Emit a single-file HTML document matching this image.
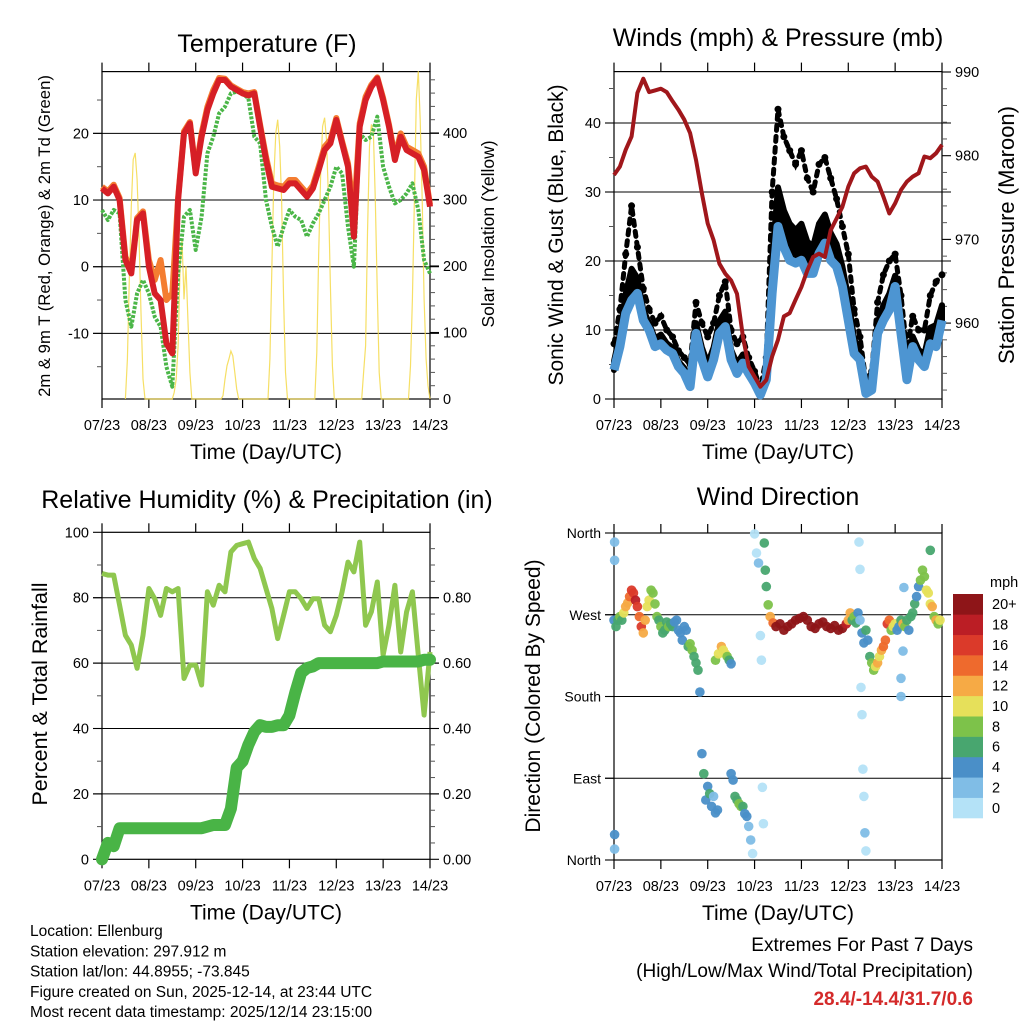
<!DOCTYPE html>
<html><head><meta charset="utf-8"><style>
html,body{margin:0;padding:0;background:#fff;}
svg{display:block;font-family:"Liberation Sans",Arial,sans-serif;}
</style></head><body>
<svg id="chart" width="1024" height="1024" viewBox="0 0 1024 1024" xmlns="http://www.w3.org/2000/svg">
<rect width="1024" height="1024" fill="#fff"/>
<g id="layer"></g>
</svg>
<script>
// ---------- data (3-hourly, hour = 3*k) ----------
const dayLabels = ["07/23","08/23","09/23","10/23","11/23","12/23","13/23","14/23"];
const temp2m = [11.75,11,12,10,1,-1,7,8,0,-4,-5,-11.5,-13,10,20,21.5,14,19.5,23.5,26,28,28,27,26.5,26,25.7,26,21,16,12,11.75,11.5,12.5,12.5,11.5,10.5,11.75,14.5,17.5,18.5,22,18.5,15,4.5,21,25,27,28.25,25,21,16,19.5,17.5,17,16.5,14.5,9];
const temp9m = [12,11.3,12.3,10.3,1.5,-0.5,7.3,8.3,1,-2,1,-5,-4,10.3,20.3,21.7,14.3,20,24,26.5,28.3,28.2,27.2,26.7,26.2,26,26.2,21.3,16.5,12.5,12.2,12,13,13,12,11,12.2,15,18,19,22.3,18.8,15.5,7.5,21.5,25.5,27.3,28.4,25.3,21.3,16.5,20,18,17.5,17,15,9.3];
const dewpt = [8.5,7,8.5,8,-5,-9,-4,-2,-4,-7.5,-9,-15,-18,-1,7.5,8.5,2.5,7.5,17,19.5,23,24,26,26.25,26,25.25,19.5,18.5,10,6,3,6,8.5,7.5,7,4.5,6.5,8,10,12,15,14,6,0,20,19,19.5,22.5,15,12,9.5,10,11,12.5,8.5,1,-1];
const solarHour = [12,13,14,15,16,17,18,19,20,21,22, 36,37,38,39,40,41,42,43,44,45,46, 61,62,63,64,65,66,67,68,69,70, 85,86,87,88,89,90,91,92,93,94,95, 109,110,111,112,113,114,115,116,117,118,119, 133,134,135,136,137,138,139,140,141,142,143, 157,158,159,160,161,162,163,164,165,166,167,168];
const solarVal  = [0,60,180,290,360,370,330,240,130,30,0, 0,10,30,80,200,240,150,200,120,40,0, 0,5,30,50,60,72,65,40,15,0, 0,60,200,330,400,420,380,300,150,40,0, 0,70,220,340,410,423,390,300,170,50,0, 0,40,80,250,380,413,400,300,160,40,0, 0,50,150,300,450,493,420,300,150,60,20,0];
const windMean = [4.2,7.6,12.4,14.3,15.3,11.4,10,7.6,8,7.1,6.6,4.7,3.7,1.8,9.5,5.7,3.2,5.7,9.5,10.5,5.7,3.7,5.2,3.7,2.3,0.6,2.8,15.3,25,22,20.1,19.7,20.1,18.2,18.2,21.1,22.6,20.1,19.2,16.3,11.4,6.6,5.7,0.8,1.3,9.5,11.4,12.9,16.3,9.5,2.8,7.6,5.7,4.7,8,7.6,11.4];
const windGust = [8,13,21,28,22,16,13,11,12,10,9,7,6,5,14,11,9,11,15,17,10,8,9,6,4,1.5,6,30,42,38,36,34,36,32,30,34,35,32,29,25,21,13,9,2.5,4,14,18,20,21,15,7,12,10,10,15,17,18];
const pressure = [977.7,978.7,980.7,982.3,987.5,989.2,987.6,987.8,988,987.6,986.5,985.5,984.3,982.7,979.5,975.5,971.9,969.9,967.1,965.9,965.1,963.5,958.4,954.8,953.6,952.4,953.2,956,958,960.8,961.2,962.8,964.3,966.3,967.9,968.3,967.9,971.1,972.5,973.9,976.3,977.9,978.5,978.7,977.5,976.9,975.1,973.1,974.3,975.9,976.9,977.5,977.9,979.9,979.7,980.3,981.3];
const relHum = [87.4,86.9,86.9,77.7,68.5,65.5,58.4,68.5,82.8,79.7,74.6,82.8,81.8,82.8,55.3,59.4,59.4,53.3,81.8,77.7,83.8,81.8,94,96,96.5,97,92,89,82.8,76.7,67.5,74.6,81.8,81.8,79.7,76.7,79.7,79.7,71.6,69.6,74.6,81.8,90.9,87.9,97,71.6,75.7,84.8,62.4,71.6,83.8,63.4,75.7,81.8,62.4,44.1,63.4];
const precip = [0,0.05,0.04,0.095,0.095,0.095,0.095,0.095,0.095,0.095,0.095,0.095,0.095,0.095,0.095,0.095,0.095,0.095,0.1,0.105,0.105,0.105,0.155,0.28,0.3,0.35,0.39,0.41,0.405,0.405,0.41,0.41,0.44,0.51,0.57,0.585,0.59,0.6,0.6,0.6,0.6,0.6,0.6,0.6,0.6,0.6,0.6,0.6,0.605,0.605,0.605,0.605,0.605,0.605,0.605,0.61,0.61];
const wdHour = [0,0.3,0.3,0.3,0.3,1,2,3,4,5,6,7,8,9,10,11,12,13,14,15,16,17,18,19,20,21,22,23,24,25,26,27,28,29,30,31,32,33,34,35,36,37,38,39,40,41,42,43,44,45,46,47,48,49,50,51,52,53,52,53.5,55,56,57,58,59,60,60,61,62,63,64,65,66,67,68,69,70,71,72,73,74,75,75.5,76,76.5,77,77.5,78,79,80,81.5,83,85,87,89,91,93,95,97,99,101,103,105,107,109,111,113,115,117,119,120,121,122,123,124,125,126,125.5,126,126.5,127,127.5,128,128.5,129,127,128,129,130,131,132,133,134,135,136,137,138,139,140,141,142,143,144,145,146,147,148,149,150,151,152,153,154,155,156,157,158,159,160,161,162,163,164,165,166,167,162,147,147,148,148.5];
const wdDir  = [264,350,330,12,28,257,264,268,264,272,279,283,290,297,294,286,279,268,257,250,264,279,286,297,294,282,268,264,257,250,253,262,257,260,257,262,264,253,250,242,257,253,235,238,231,224,217,209,185,117,95,66,81,73,59,70,52,55,220,227,235,231,227,224,220,216,95,88,70,66,62,59,59,51,48,37,22,7,359,338,327,247,220,80,40,349,319,301,281,268,261,257,260,253,257,260,264,266,268,264,257,255,260,262,257,255,258,253,255,260,264,272,264,268,261,272,264,350,320,190,160,100,70,30,10,250,239,253,242,224,217,209,213,217,224,231,235,242,260,264,253,257,260,253,257,264,260,257,264,253,268,272,282,290,301,308,319,312,297,294,282,279,268,264,260,264,341,200,180,230,300];
const wdSpeed= [4,2,3,3,4,6,6,8,7,10,12,12,15,17,16,18,16,14,16,13,12,10,10,8,9,8,8,7,8,7,7,6,8,7,6,5,5,4,5,4,4,4,6,9,8,7,6,7,4,5,6,4,5,6,4,3,5,4,8,10,12,11,10,9,6,4,4,4,6,7,8,8,7,5,4,2,2,1,0,1,2,1,1,1,1,6,7,6,8,12,15,20,21,22,20,21,22,21,22,21,20,21,22,21,20,22,21,20,20,18,12,12,6,8,6,4,3,1,1,1,1,1,1,2,1,4,5,6,5,6,8,8,10,13,11,12,14,14,16,15,8,10,11,4,4,6,12,8,6,5,6,7,6,4,5,8,9,8,10,11,10,12,8,12,8,10,7,2,2,3,2];
const speedColors = ["#b4e2f7","#80bde6","#4a8fc8","#48a66f","#7dc24a","#e6e05a","#f6aa45","#ee6a2d","#db3a2a","#bb1e25","#8e1518"];
const speedLabels = ["0","2","4","6","8","10","12","14","16","18","20+"];

// ---------- helpers ----------
const NS="http://www.w3.org/2000/svg";
const layer=document.getElementById('layer');
function mk(tag, attrs, parent){
  const e=document.createElementNS(NS,tag);
  for(const k in attrs) e.setAttribute(k,attrs[k]);
  (parent||layer).appendChild(e); return e;
}
function txt(x,y,s,size,anchor,parent,extra){
  const t=mk('text',Object.assign({x:x,y:y,'font-size':size,'text-anchor':anchor||'middle',fill:'#000'},extra||{}),parent);
  t.textContent=s; return t;
}
const X0=102, W=328;
function xA(h){return X0+h*W/168;}
function xB(h){return 614+h*W/168;}
const yT=v=>266.7-v*6.667;
const ySol=w=>399-w*0.665;
const yW=v=>399-v*6.9;
const yP=p=>72+(990-p)*8.37;
const yRH=v=>859.3-v*3.27;
const yPr=v=>859.3-v*327;
const yD=d=>860-d*327/360;

function frame(name,x0,y0,x1,y1,xf){
  const g=mk('g',{});
  
  
  mk('rect',{x:x0,y:y0,width:x1-x0,height:y1-y0,fill:'none',stroke:'#000','stroke-width':1.2},g);
  for(let d=0;d<=7;d++){
    const x=xf(d*24);
    mk('line',{x1:x,x2:x,y1:y1,y2:y1+9,stroke:'#000','stroke-width':1.2},g);
    mk('line',{x1:x,x2:x,y1:y0,y2:y0-9,stroke:'#000','stroke-width':1.2},g);
    const t=txt(x,y1+31,dayLabels[d],14.5,'middle',g);
    
    
  }
  const xt=txt((x0+x1)/2,y1+60,'Time (Day/UTC)',21,'middle',g);
  
  
  return g;
}
function grid(g,x0,x1,ys){ys.forEach(y=>mk('line',{x1:x0-9,x2:x1+9,y1:y,y2:y,stroke:'#000','stroke-width':1},g));}
function yTicks(g,x,side,vals,f,labels,minor,size){
  const dir=side==='left'?-1:1;
  vals.forEach((v,i)=>{
    const y=f(v);
    mk('line',{x1:x,x2:x+dir*9,y1:y,y2:y,stroke:'#000','stroke-width':1.1},g);
    const t=txt(x+dir*13,y+5,labels[i],size||14.5,side==='left'?'end':'start',g);
    
    
  });
  (minor||[]).forEach(v=>{const y=f(v);mk('line',{x1:x,x2:x+dir*5,y1:y,y2:y,stroke:'#555','stroke-width':1},g);});
}
function rotTitle(x,y,s,size,name){
  const t=txt(0,0,s,size,'middle',layer,{transform:`translate(${x},${y}) rotate(-90)`});
  
  
}
function title(x,y,s,name){
  const t=txt(x,y,s,25,'middle');
  
  
}
function pts(arr,xf,yf,step){return arr.map((v,i)=>xf(i*step).toFixed(1)+','+yf(v).toFixed(1)).join(' ');}

// ---------- Panel 1: temperature ----------
title(267,52,'Temperature (F)','temperature-title');
const g1=frame('temperature-panel',102,71.6,430,399,xA);
grid(g1,102,430,[yT(-10),yT(0),yT(10),yT(20)]);
yTicks(g1,102,'left',[-10,0,10,20],yT,['-10','0','10','20'],[-15,-5,5,15,25]);
yTicks(g1,430,'right',[0,100,200,300,400],ySol,['0','100','200','300','400'],[20,40,60,80,120,140,160,180,220,240,260,280,320,340,360,380,420,440,460,480]);
rotTitle(50,236,'2m & 9m T (Red, Orange) & 2m Td (Green)',16.7,'temperature-y-axis-title');
rotTitle(494,234,'Solar Insolation (Yellow)',17.5,'solar-y-axis-title');
{
  const s=mk('polyline',{points:solarHour.map((h,i)=>xA(h).toFixed(1)+','+ySol(solarVal[i]).toFixed(1)).join(' '),fill:'none',stroke:'#f5d94a','stroke-width':1.2,opacity:0.85});
  
  
  const d=mk('polyline',{points:pts(dewpt,xA,yT,3),fill:'none',stroke:'#4bb648','stroke-width':4,'stroke-dasharray':'3 1.5','stroke-linejoin':'round'});
  
  
  const o=mk('polyline',{points:pts(temp9m,xA,yT,3),fill:'none',stroke:'#f47d31','stroke-width':6,'stroke-linejoin':'round'});
  
  
  const r=mk('polyline',{points:pts(temp2m,xA,yT,3),fill:'none',stroke:'#d61f26','stroke-width':6,'stroke-linejoin':'round'});
  
  
}

// ---------- Panel 2: winds & pressure ----------
title(778,46,'Winds (mph) & Pressure (mb)','winds-title');
const g2=frame('winds-panel',614,71.6,942,399,xB);
grid(g2,614,942,[yW(10),yW(20),yW(30),yW(40)]);
yTicks(g2,614,'left',[0,10,20,30,40],yW,['0','10','20','30','40'],[5,15,25,35,45]);
yTicks(g2,942,'right',[960,970,980,990],yP,['960','970','980','990'],[952,954,956,958,962,964,966,968,972,974,976,978,982,984,986,988]);
rotTitle(563,235,'Sonic Wind & Gust (Blue, Black)',21,'wind-y-axis-title');
rotTitle(1014,235,'Station Pressure (Maroon)',22,'pressure-y-axis-title');
{
  let up=windGust.map((v,i)=>xB(i*3).toFixed(1)+','+yW((v+windMean[i]*2)/3).toFixed(1));
  let dn=windMean.map((v,i)=>xB(i*3).toFixed(1)+','+yW(v).toFixed(1)).reverse();
  const band=mk('polygon',{points:up.concat(dn).join(' '),fill:'#000',stroke:'#000','stroke-width':6,'stroke-linejoin':'round'});
  
  
  const gl=mk('polyline',{points:pts(windGust,xB,yW,3),fill:'none',stroke:'#000','stroke-width':5,'stroke-dasharray':'5 6','stroke-linecap':'round'});
  
  
  windGust.forEach((v,i)=>{
    const c=mk('circle',{cx:xB(i*3),cy:yW(v),r:3.5,fill:'#000'});
    
    
  });
  const b=mk('polyline',{points:pts(windMean,xB,yW,3),fill:'none',stroke:'#4d95d2','stroke-width':9,'stroke-linejoin':'round'});
  
  
  const p=mk('polyline',{points:pts(pressure,xB,yP,3),fill:'none',stroke:'#a0171b','stroke-width':4,'stroke-linejoin':'round'});
  
  
}

// ---------- Panel 3: RH & precip ----------
title(267,508,'Relative Humidity (%) & Precipitation (in)','humidity-title');
const g3=frame('humidity-panel',102,532.3,430,859.3,xA);
grid(g3,102,430,[yRH(20),yRH(40),yRH(60),yRH(80)]);
yTicks(g3,102,'left',[0,20,40,60,80,100],yRH,['0','20','40','60','80','100'],[10,30,50,70,90]);
yTicks(g3,430,'right',[0,0.2,0.4,0.6,0.8],yPr,['0.00','0.20','0.40','0.60','0.80'],[0.05,0.1,0.15,0.25,0.3,0.35,0.45,0.5,0.55,0.65,0.7,0.75,0.85,0.9,0.95]);
rotTitle(47,694,'Percent & Total Rainfall',21.5,'humidity-y-axis-title');
{
  const h=mk('polyline',{points:pts(relHum,xA,yRH,3),fill:'none',stroke:'#8fc74f','stroke-width':5,'stroke-linejoin':'round'});
  
  
  const p=mk('polyline',{points:pts(precip,xA,yPr,3),fill:'none',stroke:'#49b446','stroke-width':12,'stroke-linejoin':'round','stroke-linecap':'round'});
  
  
}

// ---------- Panel 4: wind direction ----------
title(778,505,'Wind Direction','wind-direction-title');
const g4=frame('wind-direction-panel',614,533,942,860,xB);
grid(g4,614,942,[yD(90),yD(180),yD(270)]);
yTicks(g4,614,'left',[0,90,180,270,360],yD,['North','East','South','West','North'],[],14);
rotTitle(540,696,'Direction (Colored By Speed)',21,'direction-y-axis-title');
wdHour.forEach((h,i)=>{
  const ci=Math.min(10,Math.floor(wdSpeed[i]/2));
  const c=mk('circle',{cx:xB(h).toFixed(1),cy:yD(wdDir[i]).toFixed(1),r:4.8,fill:speedColors[ci],opacity:0.95});
  
  
});
{
  const cb=mk('g',{});
  
  
  const bh=224/11;
  speedColors.forEach((col,i)=>{
    const y=594+(10-i)*bh;
    mk('rect',{x:953,y:y,width:30,height:bh+0.3,fill:col},cb);
    const t=txt(992,y+bh/2+5,speedLabels[i],14.5,'start',cb);
    
    
  });
  const u=txt(990,587,'mph',14.5,'start',cb);
  
  
}

// ---------- footer ----------
const info=['Location: Ellenburg','Station elevation: 297.912 m','Station lat/lon: 44.8955; -73.845','Figure created on Sun, 2025-12-14, at 23:44 UTC','Most recent data timestamp: 2025/12/14 23:15:00'];
info.forEach((s,i)=>{
  const t=txt(30,936+i*20.3,s,15.5,'start');
  
  
});
const e1=txt(973,951,'Extremes For Past 7 Days',19,'end');


const e2=txt(973,977,'(High/Low/Max Wind/Total Precipitation)',19,'end');


const e3=txt(973,1005,'28.4/-14.4/31.7/0.6',19,'end',layer,{fill:'#d42a2a','font-weight':'bold'});


</script>
</body></html>
